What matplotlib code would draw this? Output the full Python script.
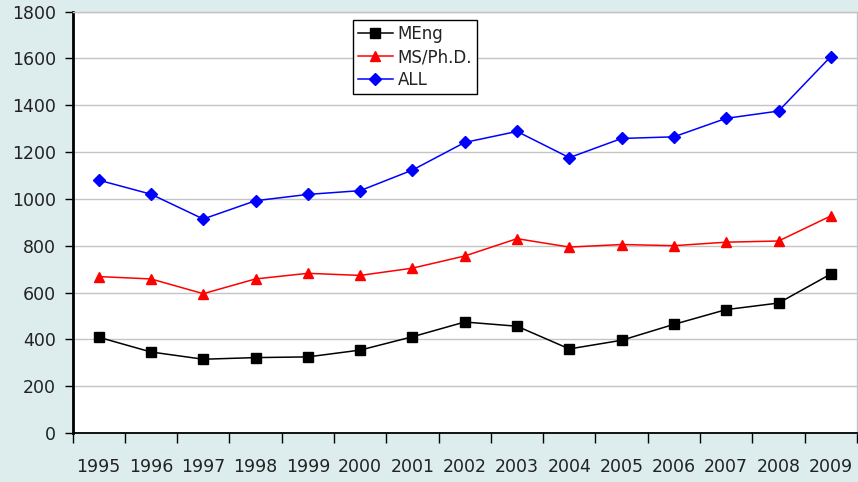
import matplotlib
matplotlib.use("Agg")
import matplotlib.pyplot as plt
import numpy as np

years = ["1995", "1996", "1997", "1998", "1999", "2000", "2001", "2002",
         "2003", "2004", "2005", "2006", "2007", "2008", "2009"]
meng = [409, 346, 315, 322, 325, 354, 411, 474, 456, 359, 396, 464, 527, 555, 679]
msphd = [668, 658, 595, 658, 682, 673, 704, 756, 830, 794, 805, 800, 815, 820, 927]
all_ = [1080, 1020, 914, 992, 1019, 1035, 1123, 1241, 1288, 1176, 1258, 1265, 1344, 1375, 1608]
yticks = [0, 200, 400, 600, 800, 1000, 1200, 1400, 1600, 1800]

bg = "#DDEDED"
fig = plt.figure(figsize=(8.58, 4.82), dpi=100, facecolor=bg)
ax = fig.add_axes([0.0845, 0.1017, 0.9143, 0.8743])
ax.set_facecolor("white")

x = np.arange(len(years))
ax.plot(x, meng, color="black", lw=1.1, marker="s", ms=6.5, label="MEng", zorder=3)
ax.plot(x, msphd, color="red", lw=1.1, marker="^", ms=7.5, label="MS/Ph.D.", zorder=3)
ax.plot(x, all_, color="blue", lw=1.1, marker="D", ms=6, label="ALL", zorder=3)

ax.set_xlim(-0.5, len(years) - 0.5)
ax.set_ylim(0, 1800)
ax.set_yticks(yticks)
ax.set_yticklabels([str(v) for v in yticks])
ax.yaxis.grid(True, color="#C4C4C4", lw=1.0)
ax.set_axisbelow(True)

ax.set_xticks(x)
ax.set_xticklabels(years)
ax.set_xticks(np.arange(len(years) + 1) - 0.5, minor=True)
ax.tick_params(axis="x", which="major", length=0, pad=18, labelsize=12.5, labelcolor="#222222")
ax.tick_params(axis="x", which="minor", length=7, width=1, color="black", direction="out")
ax.tick_params(axis="y", length=6, width=1, color="black", labelsize=12.5, labelcolor="#222222", pad=6)

for s in ["top", "right"]:
    ax.spines[s].set_color("#C4C4C4")
    ax.spines[s].set_linewidth(1.0)
ax.spines["left"].set_color("black")
ax.spines["left"].set_linewidth(2)
ax.spines["bottom"].set_color("black")
ax.spines["bottom"].set_linewidth(1.3)

leg = ax.legend(loc="upper left", bbox_to_anchor=(0.411, 0.9585),
                bbox_transform=fig.transFigure, fontsize=12, frameon=True,
                fancybox=False, edgecolor="black", framealpha=1,
                handlelength=2.1, handletextpad=0.3, borderpad=0.3,
                labelspacing=0.3, borderaxespad=0)
leg.get_frame().set_linewidth(1.0)
for t in leg.get_texts():
    t.set_color("#222222")

fig.savefig("out.png", dpi=100, facecolor=bg)
